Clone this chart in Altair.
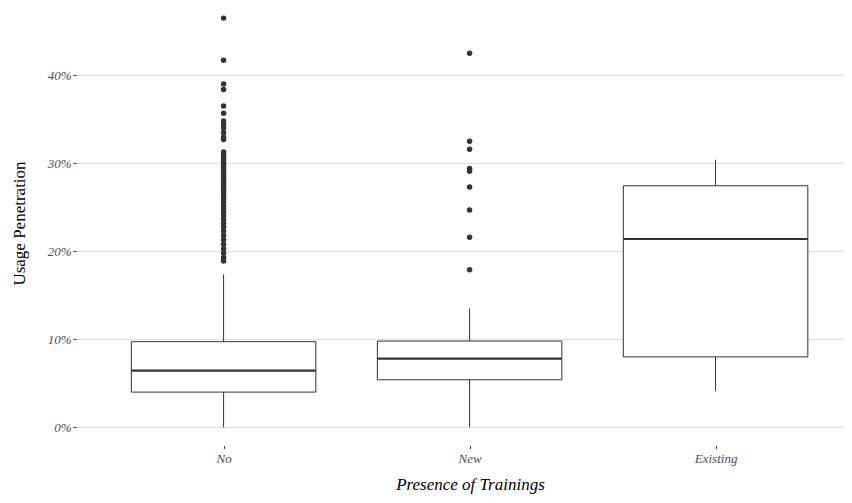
import altair as alt
import pandas as pd

# ---- data ----
categories = ["No", "New", "Existing"]
q1 = [0.040, 0.054, 0.080]
medians = [0.0643, 0.078, 0.214]
q3 = [0.0973, 0.098, 0.2745]
whisk_lo = [0.0, 0.0, 0.041]
whisk_hi = [0.174, 0.135, 0.304]

no_outliers = [0.465, 0.417, 0.390, 0.384, 0.365, 0.357, 0.348, 0.344, 0.340,
               0.335, 0.330, 0.327, 0.313, 0.310, 0.307, 0.304, 0.301, 0.298,
               0.295, 0.292, 0.289, 0.286, 0.283, 0.280, 0.277, 0.274, 0.271,
               0.268, 0.265, 0.262, 0.259, 0.256, 0.252, 0.248, 0.244, 0.240,
               0.236, 0.232, 0.228, 0.223, 0.218, 0.213, 0.208, 0.203, 0.198,
               0.193, 0.189]
new_outliers = [0.425, 0.325, 0.316, 0.294, 0.291, 0.273, 0.247, 0.216, 0.179]
existing_outliers = []

tick_values = [0, 0.1, 0.2, 0.3, 0.4]

box_df = pd.DataFrame({
    "idx": list(range(len(categories))),
    "cat": categories,
    "q1": q1, "median": medians, "q3": q3,
    "lo": whisk_lo, "hi": whisk_hi,
})
rows = []
for i, vals in enumerate([no_outliers, new_outliers, existing_outliers]):
    for v in vals:
        rows.append({"idx": i, "cat": categories[i], "value": v})
out_df = pd.DataFrame(rows)

FONT = "Liberation Serif"
DARK = "#333333"

label_expr = (f"datum.value == 0 ? '{categories[0]}' : "
              f"datum.value == 1 ? '{categories[1]}' : '{categories[2]}'")

xscale = alt.Scale(domain=[-0.6, 2.522], nice=False, zero=False)
yscale = alt.Scale(domain=[-0.0207, 0.4765], nice=False, zero=False)

xaxis = alt.Axis(values=[0, 1, 2], labelExpr=label_expr, title="Presence of Trainings",
                 grid=False, domain=False, ticks=True, tickSize=3, tickColor=DARK,
                 labelFont=FONT, labelFontStyle="italic", labelColor="#4d4d4d",
                 labelFontSize=13, labelPadding=4,
                 titleFont=FONT, titleFontStyle="italic", titleFontWeight="normal",
                 titleFontSize=17, titleColor="#000000", titlePadding=11,
                 titleX=394)
yaxis = alt.Axis(values=tick_values, format=".0%", title="Usage Penetration",
                 grid=True, gridColor="#dedede", gridWidth=1, domain=False,
                 ticks=True, tickSize=3, tickColor=DARK,
                 labelFont=FONT, labelFontStyle="italic", labelColor="#4d4d4d",
                 labelFontSize=13, labelPadding=2,
                 titleFont=FONT, titleFontStyle="normal", titleFontWeight="normal",
                 titleFontSize=17, titleColor="#000000", titlePadding=19,
                 titleY=215)

X = lambda f: alt.X(f, scale=xscale, axis=xaxis)
Y = lambda f: alt.Y(f, scale=yscale, axis=yaxis)

whisker = alt.Chart(box_df).mark_rule(color=DARK, strokeWidth=1).encode(
    x=X("idx:Q"), y=Y("lo:Q"), y2="hi:Q")

base = alt.Chart(box_df).transform_calculate(
    xl="datum.idx - 0.375", xr="datum.idx + 0.375")

box = base.mark_rect(fill="white", stroke=DARK, strokeWidth=1).encode(
    x=X("xl:Q"), x2="xr:Q", y=Y("q1:Q"), y2="q3:Q")

med = base.mark_rule(color=DARK, strokeWidth=2.2).encode(
    x=X("xl:Q"), x2="xr:Q", y=Y("median:Q"))

pts = alt.Chart(out_df).mark_circle(size=30, color=DARK, opacity=1).encode(
    x=X("idx:Q"), y=Y("value:Q"))

chart = alt.layer(whisker, box, med, pts).properties(
    width=768, height=437.5,
    autosize=alt.AutoSizeParams(type="none"),
    padding={"left": 68, "top": 0, "right": 0, "bottom": 49},
).configure_view(stroke=None)

chart.save("out.html", embed_options={"renderer": "svg", "actions": False})
